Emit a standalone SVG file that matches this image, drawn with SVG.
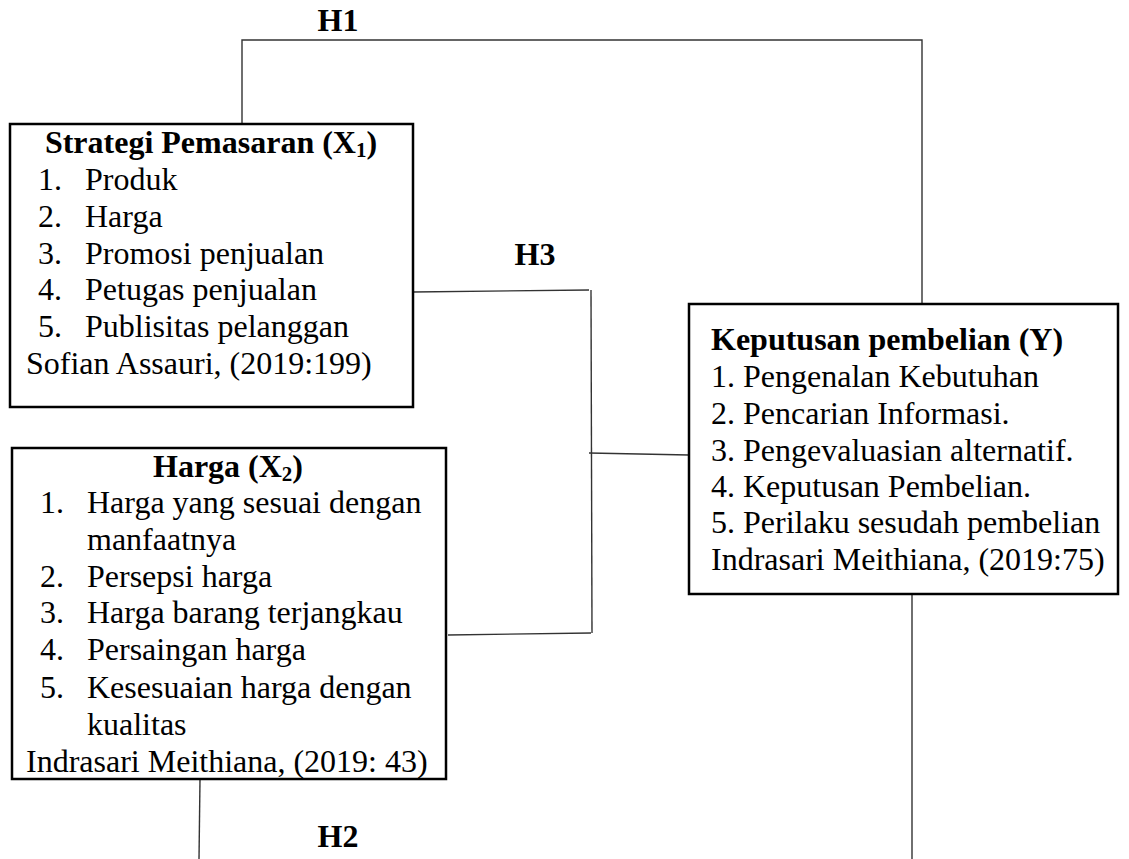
<svg xmlns="http://www.w3.org/2000/svg" width="1129" height="859" viewBox="0 0 1129 859">
<style>
.box{fill:#fff;stroke:#000;stroke-width:2.5}
.con{fill:none;stroke:#333;stroke-width:1.4}
text{font-family:"Liberation Serif","Times New Roman",serif;font-size:32px;fill:#000}
.b{font-weight:bold}
.c{text-anchor:middle}
.sub{font-size:21px}
</style>
<rect width="1129" height="859" fill="#fff"/>
<g id="connectors">
<polyline class="con" points="242,124 242,40 922,40 922,304"/>
<line class="con" x1="413" y1="292" x2="589" y2="290"/>
<line class="con" x1="591" y1="290" x2="592" y2="633"/>
<line class="con" x1="448" y1="635" x2="591" y2="633"/>
<line class="con" x1="589" y1="453" x2="689" y2="455"/>
<line class="con" x1="200" y1="779" x2="199" y2="859"/>
<line class="con" x1="912" y1="594" x2="912" y2="859"/>
<text class="b c" x="338" y="31">H1</text>
<text class="b c" x="535" y="265">H3</text>
<text class="b c" x="338" y="847">H2</text>
</g>
<g id="x1">
<rect class="box" x="10" y="124" width="403" height="283"/>
<text class="b c" x="211" y="153">Strategi Pemasaran (X<tspan class="sub" dy="4">1</tspan><tspan dy="-4">)</tspan></text>
<text x="38" y="190">1.</text><text x="85" y="190">Produk</text>
<text x="38" y="227">2.</text><text x="85" y="227">Harga</text>
<text x="38" y="264">3.</text><text x="85" y="264">Promosi penjualan</text>
<text x="38" y="300">4.</text><text x="85" y="300">Petugas penjualan</text>
<text x="38" y="337">5.</text><text x="85" y="337">Publisitas pelanggan</text>
<text x="26" y="374">Sofian Assauri, (2019:199)</text>
</g>
<g id="x2">
<rect class="box" x="12" y="448" width="434" height="331"/>
<text class="b c" x="228" y="477">Harga (X<tspan class="sub" dy="4">2</tspan><tspan dy="-4">)</tspan></text>
<text x="40" y="513">1.</text><text x="87" y="513">Harga yang sesuai dengan</text>
<text x="87" y="550">manfaatnya</text>
<text x="40" y="587">2.</text><text x="87" y="587">Persepsi harga</text>
<text x="40" y="623">3.</text><text x="87" y="623">Harga barang terjangkau</text>
<text x="40" y="660">4.</text><text x="87" y="660">Persaingan harga</text>
<text x="40" y="698">5.</text><text x="87" y="698">Kesesuaian harga dengan</text>
<text x="87" y="735">kualitas</text>
<text x="26" y="772">Indrasari Meithiana, (2019: 43)</text>
</g>
<g id="y">
<rect class="box" x="689" y="304" width="429" height="290"/>
<text class="b" x="711" y="350">Keputusan pembelian (Y)</text>
<text x="711" y="387">1. Pengenalan Kebutuhan</text>
<text x="711" y="424">2. Pencarian Informasi.</text>
<text x="711" y="461">3. Pengevaluasian alternatif.</text>
<text x="711" y="497">4. Keputusan Pembelian.</text>
<text x="711" y="533">5. Perilaku sesudah pembelian</text>
<text x="711" y="570">Indrasari Meithiana, (2019:75)</text>
</g>
</svg>
